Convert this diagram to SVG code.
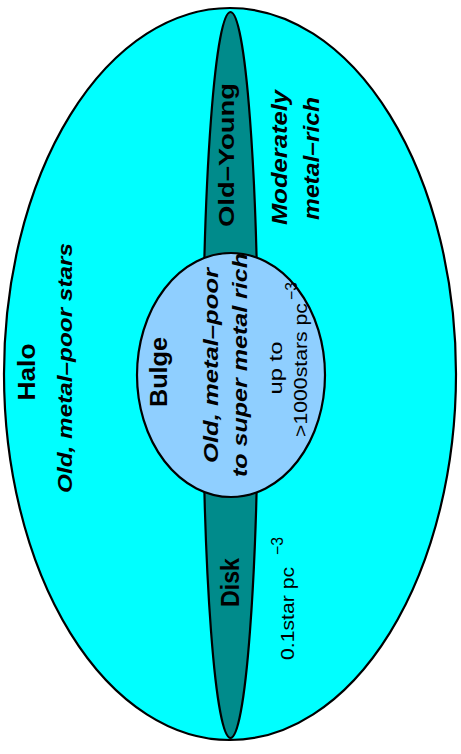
<svg xmlns="http://www.w3.org/2000/svg" width="461" height="754" viewBox="0 0 461 754">
<style>
  text { font-family: "Liberation Sans", Arial, sans-serif; fill: #000; }
  .b { font-weight: bold; }
  .bi { font-weight: bold; font-style: italic; }
  .r { font-weight: normal; }
  .shape { stroke: #000; stroke-width: 2.2; }
</style>
<rect width="461" height="754" fill="#ffffff"/>
<g id="halo">
  <ellipse class="shape" cx="230" cy="374" rx="226" ry="366" fill="#00FFFF"/>
  <text class="b" font-size="24" text-anchor="middle" transform="translate(35,372) rotate(-90)" textLength="57" lengthAdjust="spacingAndGlyphs">Halo</text>
  <text class="bi" font-size="21" text-anchor="middle" transform="translate(72,368) rotate(-90)" textLength="250" lengthAdjust="spacingAndGlyphs">Old, metal–poor stars</text>
  <text class="bi" font-size="22" text-anchor="middle" transform="translate(287,157.5) rotate(-90)" textLength="135" lengthAdjust="spacingAndGlyphs">Moderately</text>
  <text class="bi" font-size="22" text-anchor="middle" transform="translate(319,158.5) rotate(-90)" textLength="123" lengthAdjust="spacingAndGlyphs">metal–rich</text>
  <text class="r" font-size="19" text-anchor="middle" transform="translate(294,613.5) rotate(-90)" textLength="93" lengthAdjust="spacingAndGlyphs">0.1star pc</text>
  <text class="r" font-size="16" text-anchor="middle" transform="translate(283,546) rotate(-90)" textLength="18" lengthAdjust="spacingAndGlyphs">−3</text>
</g>
<g id="disk">
  <ellipse class="shape" cx="230.5" cy="375" rx="27.5" ry="363" fill="#008B8B"/>
  <text class="b" font-size="22" text-anchor="middle" transform="translate(234,155) rotate(-90)" textLength="144" lengthAdjust="spacingAndGlyphs">Old–Young</text>
  <text class="b" font-size="25" text-anchor="middle" transform="translate(239,582.5) rotate(-90)" textLength="49" lengthAdjust="spacingAndGlyphs">Disk</text>
</g>
<g id="bulge">
  <ellipse class="shape" cx="231" cy="375" rx="94" ry="122" fill="#8FCFFF"/>
  <text class="b" font-size="23" text-anchor="middle" transform="translate(167,372) rotate(-90)" textLength="70" lengthAdjust="spacingAndGlyphs">Bulge</text>
  <text class="bi" font-size="21" text-anchor="middle" transform="translate(218,365.5) rotate(-90)" textLength="195" lengthAdjust="spacingAndGlyphs">Old, metal–poor</text>
  <text class="bi" font-size="21" text-anchor="middle" transform="translate(247,365) rotate(-90)" textLength="224" lengthAdjust="spacingAndGlyphs">to super metal rich</text>
  <text class="r" font-size="19" text-anchor="middle" transform="translate(282,368) rotate(-90)" textLength="53" lengthAdjust="spacingAndGlyphs">up to</text>
  <text class="r" font-size="19" text-anchor="middle" transform="translate(307,370) rotate(-90)" textLength="134" lengthAdjust="spacingAndGlyphs">&gt;1000stars pc</text>
  <text class="r" font-size="16" text-anchor="middle" transform="translate(297,291) rotate(-90)" textLength="18" lengthAdjust="spacingAndGlyphs">−3</text>
</g>
<g id="connectors"/>
</svg>
